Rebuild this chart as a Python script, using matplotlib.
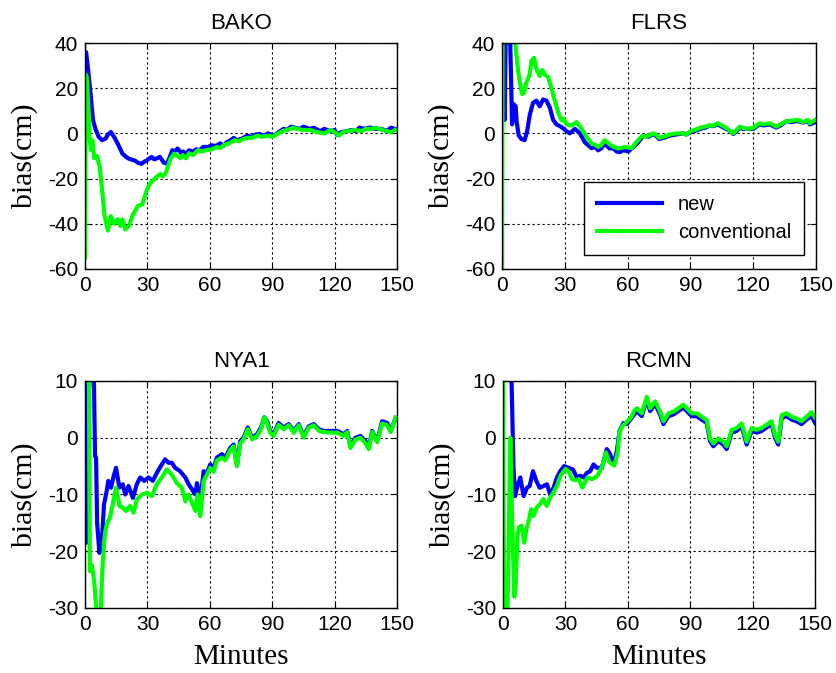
import numpy as np
import matplotlib
matplotlib.use('Agg')
import matplotlib.pyplot as plt

## data (minutes, bias in cm)
bako_t_new = [0, 0.5, 1.5, 2.5, 3.8, 5, 6.6, 8.2, 9.9, 11, 12.4, 14, 15.7, 18, 20.6, 22, 23.9, 25.5, 27, 28.5, 29.6, 31, 32, 33.3, 34.6, 36, 37.9, 39.5, 40.5, 42, 43, 44.5, 46, 47, 48.5, 50, 52, 53.5, 55, 56.8, 59, 61, 63, 65, 66.5, 68, 70, 71.5, 73, 75, 78, 80, 82, 84, 86, 88, 91, 93, 95.5, 97, 99, 101, 103.5, 105, 108, 110, 113, 115, 118, 120, 121, 123, 126, 128, 130, 132, 134, 137, 139, 142, 144, 145, 147, 149]
bako_new = [35, 36, 28, 19, 6, 2, -1.6, -3, -2.3, -0.5, 0.6, -1.6, -4.5, -9, -11, -11.5, -12, -13, -13.5, -12.5, -12, -11, -10.4, -11.5, -11, -10.4, -13, -13.3, -11, -7.4, -8, -6.7, -8.5, -8, -9, -7.5, -8, -7, -7.5, -6, -6, -5.3, -5.5, -4.4, -5.5, -4, -3, -2, -3, -2.5, -1, -1.5, -0.5, -0.3, -1, 0, -1, 0.5, 2, 1.5, 3, 2.5, 2, 3, 2, 2.5, 1, 2, 1, 1.5, -0.6, 0.5, 1, 1.5, 1, 2.6, 2, 2.6, 2, 2, 1.5, 1, 2.5, 2]
bako_t_conv = [0, 0.4, 0.8, 1.6, 2.1, 2.8, 3.5, 4.4, 5.8, 7, 8.2, 9.4, 11, 12.4, 14, 15.7, 17, 18, 19.3, 21, 23, 25.5, 27.5, 29.7, 31.3, 33, 34.6, 36.2, 37.4, 38.5, 39.5, 41.2, 42.8, 44.5, 46, 47, 48.5, 50, 52, 54.4, 56, 58.5, 61, 63.4, 65, 67, 69, 72, 74, 76, 78, 80, 83, 85, 88, 90, 92, 95, 97, 100, 102, 105, 108, 110, 112, 115, 118, 120, 122, 124, 126, 130, 133, 135, 138, 140, 143, 145, 147, 149]
bako_conv = [-55, 26, 25, 11.5, -1.6, -7.4, -3, -11, -10, -14.7, -25, -36.6, -43, -36.6, -40, -38, -41, -38, -42.5, -41, -36, -32, -31.5, -25, -22, -20.5, -19, -18, -19, -18, -15.5, -11, -9, -10, -11, -9.6, -11, -8.8, -9.5, -7.4, -8, -7.4, -7, -6, -6.5, -5, -4.5, -3, -3.5, -2.5, -2, -2, -1, -1.5, -1, -1.5, -0.5, 1, 1.5, 2.5, 2, 1.5, 1.5, 1, 0.5, 0, 1.5, 0.5, -1, 0.5, 1, 1.5, 1, 2, 2, 2.5, 1.5, 1, 0.5, 1.5]

flrs_t_new = [0, 1.0, 1.3, 1.8, 3.8, 4.8, 5.5, 6.5, 7.0, 8, 9.3, 10.8, 12, 13.2, 14.8, 16.4, 18, 19.6, 21.2, 22.8, 24.4, 26, 28.4, 30.8, 32.4, 34.8, 37.2, 39.6, 42.7, 44.5, 45.9, 47.5, 49, 51.4, 53, 54.7, 56.3, 57.9, 60.3, 62.7, 65, 67.5, 70, 72, 73.5, 75, 77, 80, 83, 86.6, 88, 89.8, 92, 94.6, 97, 99, 101, 103, 105, 107, 109, 110.5, 112, 113.7, 115, 117, 120, 123, 125, 128, 130, 131, 133, 136, 138, 141, 144, 146, 147, 149.6]
flrs_new = [60, 45, 6, 48, 45, 4, 13, 12, 5, -1, -2.5, -3, 1, 8, 13.5, 14.5, 12, 15, 14.5, 11.5, 6, 4, 2.8, 1, 0, 2, 0, -4, -6.5, -6, -7.5, -6.5, -4.5, -6.7, -6.5, -8, -8.3, -7.4, -8, -6, -4, -1, -1.5, -0.3, -1, -2.5, -2, -1, -0.5, 0, -0.5, 0.5, 1, 2, 2.5, 3.4, 3.2, 4, 3, 2, 1, -0.3, 1, 2.5, 2, 2, 2, 4, 3.5, 4, 3, 2.6, 3.5, 5.5, 5, 5.5, 4.8, 5.5, 4, 5]
flrs_t_conv = [0, 0.3, 6, 6.5, 7.7, 8.5, 9.6, 10.5, 11.6, 13.2, 14, 15.3, 16.4, 18, 19.2, 20.4, 22, 23.6, 25.2, 26.8, 28.4, 29.5, 30.8, 33.2, 35.6, 38, 40.4, 42.7, 44.5, 45.9, 47.5, 49, 51, 52.3, 55.5, 58.7, 61.9, 64, 67, 69, 72, 73.5, 75, 77, 80, 83, 86, 88, 90, 92, 94.6, 97, 99, 101, 103, 105, 107, 109, 110.5, 112, 113.7, 115, 117, 120, 123, 125, 128, 130, 131, 133, 136, 138, 141, 144, 146, 147, 149.6]
flrs_conv = [-80, 70, 45, 38, 27.6, 22.5, 17.4, 18, 22.5, 26, 32, 33.4, 28.5, 25.4, 28, 26, 25, 20, 14.5, 9.3, 5.7, 6.5, 4, 3.5, 5, 2, -1.6, -4.5, -5, -6, -5, -3, -4.5, -5.5, -6.7, -6, -6.5, -4, -1, -1.5, 0, -0.5, -2, -1.5, -0.5, 0, 0, -0.5, 1, 1.5, 2.5, 3, 3.5, 3.4, 4.5, 3.5, 2.5, 1, 0, 1.5, 3, 2.5, 2, 2.5, 4.5, 4, 4.5, 3.5, 3, 4, 5.5, 5.5, 6, 5, 6, 4.5, 6]

nya1_t_new = [0, 0.6, 1.5, 2.4, 4.2, 4.8, 5.3, 5.8, 6.9, 8, 9.1, 10.4, 11.2, 12.5, 13.6, 14.9, 16.5, 18.1, 19.3, 20.9, 23, 24.9, 26.5, 28.4, 30.5, 32.6, 34.5, 36.9, 38.5, 40.1, 41.7, 43.3, 45.7, 48.2, 49.8, 51.4, 53, 53.8, 55.4, 57, 58.6, 60.2, 61.8, 63.4, 65.8, 67.4, 69.8, 71.4, 73, 74.6, 76.2, 78.2, 80.3, 82.7, 84.6, 86.2, 87.5, 89, 90.7, 93, 95.5, 97.9, 100.3, 102.7, 105.1, 107.5, 110, 112.4, 114.8, 118, 121.2, 124.4, 126, 127.6, 130, 132.4, 134.8, 136.4, 138, 140.4, 142.8, 145.3, 146.9, 149.3]
nya1_new = [12, -18.5, 5, 12, 12, -3.2, -3.5, -15, -20.3, -18.8, -11.8, -9.4, -7.6, -8.8, -7, -5.3, -8.8, -8.2, -10, -8.5, -10.6, -8.2, -7, -7.6, -7, -7.6, -6.2, -4.7, -3.8, -4.4, -4.4, -5.3, -5.9, -7, -8.2, -9.1, -10, -8, -11.2, -5.9, -6.2, -4.7, -5.3, -3.5, -2.9, -3.5, -1.8, -1.2, -4.7, -0.6, 0, 1.8, 0, 0.6, 1.8, 3.6, 2.9, 1.2, 0.6, 2.6, 1.8, 2.4, 1.2, 2.4, 0.3, 2, 2.4, 1.5, 1.2, 1.2, 1.2, 0.6, 1.2, -1.5, 0, 0.3, -0.6, -1.8, 1.2, -0.6, 2.9, 2.6, 1.2, 3.5]
nya1_t_conv = [0, 1.8, 2.3, 3.2, 4.3, 5.5, 6.5, 7.5, 8.5, 9.5, 10.4, 12, 13.3, 14.9, 16.5, 18.1, 19.7, 21.7, 23.3, 24.9, 27.3, 29.7, 32.1, 34.5, 36.9, 39.3, 41.7, 44.1, 46.5, 48.2, 49.8, 51.4, 53, 54.1, 55.4, 57, 58.6, 60.2, 61.8, 63.4, 65.8, 67.4, 69.8, 71.4, 73, 74.6, 76.2, 78.2, 80.3, 82.7, 84.6, 86.2, 87.5, 89, 90.7, 93, 95.5, 97.9, 100.3, 102.7, 105.1, 107.5, 110, 112.4, 114.8, 118, 121.2, 124.4, 126, 127.6, 130, 132.4, 134.8, 136.4, 138, 140.4, 142.8, 145.3, 146.9, 149.3]
nya1_conv = [15, 15, -23.5, -22.4, -25, -30.5, -32, -30.5, -22, -17, -15.3, -14, -11.8, -8.8, -12, -12.3, -12.9, -12, -13.2, -10.9, -10, -9.7, -10.3, -8.2, -7, -5.6, -6.5, -8, -8.8, -11.2, -10, -11.5, -12.9, -10, -13.8, -7.6, -6.5, -5.3, -6, -4, -3.5, -4, -2.2, -1.5, -5, -1, -0.3, 1.5, -0.3, 0.3, 1.5, 3.6, 2.6, 0.9, 0.3, 2.3, 1.5, 2.2, 0.9, 2.2, 0, 1.8, 2.2, 1.2, 1, 0.9, 0.9, 0.3, 1, -1.8, -0.3, 0, -1, -2, 1, -0.8, 2.5, 2.2, 1, 3.5]

rcmn_t_new = [0, 3.8, 5, 5.8, 6.7, 8.3, 9.9, 11.5, 12.8, 14.4, 16, 17.6, 19.5, 21.1, 22.7, 24.3, 25.9, 27.5, 29.4, 31.5, 33.6, 35.5, 37.1, 38.7, 40.3, 41.9, 43.5, 45.1, 47.5, 49.9, 51.5, 53.1, 54.7, 56, 57.9, 59.5, 61.9, 64.3, 66.7, 69.1, 70.7, 73.1, 75.5, 77.1, 79.5, 81.9, 84.3, 86.7, 88.3, 90.7, 93.1, 95.5, 97.9, 99.5, 101.1, 103.5, 105.9, 107.5, 109.9, 112.3, 114.7, 117.1, 119.5, 121.9, 124.3, 126.7, 129.1, 130.7, 132.3, 134, 136.3, 138.7, 141.1, 143.5, 145.9, 148.3, 150]
rcmn_new = [40, 15, -5, -10.3, -8.8, -7, -10.3, -8.8, -8.5, -5.9, -7.6, -8.8, -8.5, -8.2, -10, -8.8, -7, -5.9, -5, -5.3, -5.6, -7, -6.7, -7, -6.2, -5.9, -4.7, -5.3, -5.3, -2, -2.9, -4.7, -2.4, 1.2, 2.6, 2.4, 3.5, 4.7, 3.8, 6.8, 4.7, 5.9, 4.1, 2.4, 3.8, 4.1, 4.7, 5.3, 4.7, 3.8, 3.8, 3.2, 2.6, -0.6, -1.5, -0.6, -1.2, -2, 0.9, 1.2, 2, -1.2, 1.2, 0.9, 1.2, 1.8, 2.4, 0, -1.2, 3.5, 3.8, 3.2, 2.9, 2.4, 3.2, 3.8, 2.6]
rcmn_t_conv = [0, 0.5, 2, 3.5, 4.3, 5.4, 6, 7, 7.6, 8.9, 10.2, 11.3, 12.5, 13.5, 14.6, 16.2, 17.8, 19.4, 21, 22.7, 24.3, 25.9, 27.6, 30, 31.6, 33.2, 34.8, 36.5, 38.1, 40.5, 42.9, 45.4, 47.8, 49.4, 51.1, 53.5, 55.1, 55.9, 57.5, 59.2, 61.6, 63.2, 64.3, 66.7, 69.1, 70.7, 73.1, 75.5, 77.1, 79.5, 81.9, 84.3, 86.7, 88.3, 90.7, 93.1, 95.5, 97.9, 99.5, 101.1, 103.5, 105.9, 107.5, 109.9, 112.3, 114.7, 117.1, 119.5, 121.9, 124.3, 126.7, 129.1, 130.7, 132.3, 134, 136.3, 138.7, 141.1, 143.5, 145.9, 148.3, 150]
rcmn_conv = [12, -34, -34, 0, -13, -28, -26, -17.3, -15.8, -15.5, -18.5, -16, -14.4, -12.6, -13.8, -12.3, -11.7, -10.8, -12, -10.5, -9.6, -8.5, -6.7, -5.5, -6, -7.3, -7.5, -7.3, -8.8, -7, -7.3, -6.7, -4.9, -2.6, -4.3, -4.9, -2.6, 1, 2.1, 2.7, 3.6, 4.8, 5.2, 4.3, 7.2, 5.2, 6.4, 4.6, 2.9, 4.3, 4.6, 5.2, 5.8, 5.2, 4.3, 4.3, 3.7, 3.1, -0.1, -1, -0.1, -0.7, -1.5, 1.4, 1.7, 2.5, -0.7, 1.7, 1.4, 1.7, 2.3, 2.9, 0.5, -0.7, 4, 4.3, 3.7, 3.4, 2.9, 3.7, 4.5, 3.5]

stations = ['BAKO', 'FLRS', 'NYA1', 'RCMN']
x_ticks = [0, 30, 60, 90, 120, 150]
y_ticks_top = [-60, -40, -20, 0, 20, 40]
y_ticks_bot = [-30, -20, -10, 0, 10]

series = [
    (bako_t_new, bako_new, bako_t_conv, bako_conv),
    (flrs_t_new, flrs_new, flrs_t_conv, flrs_conv),
    (nya1_t_new, nya1_new, nya1_t_conv, nya1_conv),
    (rcmn_t_new, rcmn_new, rcmn_t_conv, rcmn_conv),
]

plt.rcParams['font.family'] = ['Liberation Sans', 'DejaVu Sans']
plt.rcParams['axes.unicode_minus'] = False

fig = plt.figure(figsize=(8.37, 6.73), dpi=100)
# axes boxes in figure fraction (left, bottom, width, height)
boxes = [
    [0.1016, 0.6003, 0.3728, 0.3358],
    [0.5998, 0.6003, 0.3752, 0.3358],
    [0.1016, 0.0966, 0.3728, 0.3373],
    [0.6010, 0.0966, 0.3728, 0.3373],
]

for i in range(4):
    ax = fig.add_axes(boxes[i])
    tn, vn, tc, vc = series[i]
    ax.plot(tn, vn, color='#0000ff', lw=3.0, label='new', solid_joinstyle='round')
    ax.plot(tc, vc, color='#00ff00', lw=3.0, label='conventional', solid_joinstyle='round')
    ax.set_xlim(0, 150)
    if i < 2:
        ax.set_ylim(-60, 40)
        ax.set_yticks(y_ticks_top)
    else:
        ax.set_ylim(-30, 10)
        ax.set_yticks(y_ticks_bot)
    ax.set_xticks(x_ticks)
    ax.grid(True, color='k', linestyle=(0, (2, 2.5)), linewidth=0.8)
    ax.tick_params(direction='in', length=4, width=0.8, labelsize=15,
                   top=True, right=True, pad=5)
    for sp in ax.spines.values():
        sp.set_linewidth(1.0)
    ax.set_title(stations[i], fontsize=16, pad=10)
    ax.set_ylabel('bias(cm)', family='Liberation Serif', fontsize=21.5)
    ax.yaxis.set_label_coords(-0.15, 0.5)
    if i >= 2:
        ax.set_xlabel('Minutes', family='Liberation Serif', fontsize=21)
        ax.xaxis.set_label_coords(0.5, -0.16)
    if i == 1:
        leg = ax.legend(loc='lower right', bbox_to_anchor=(0.962, 0.062),
                        borderaxespad=0, fontsize=14.5, fancybox=False,
                        edgecolor='k', framealpha=1, handlelength=3.2,
                        labelspacing=0.45, borderpad=0.65)
        leg.get_frame().set_linewidth(1.0)

plt.savefig('out.png', dpi=100)
